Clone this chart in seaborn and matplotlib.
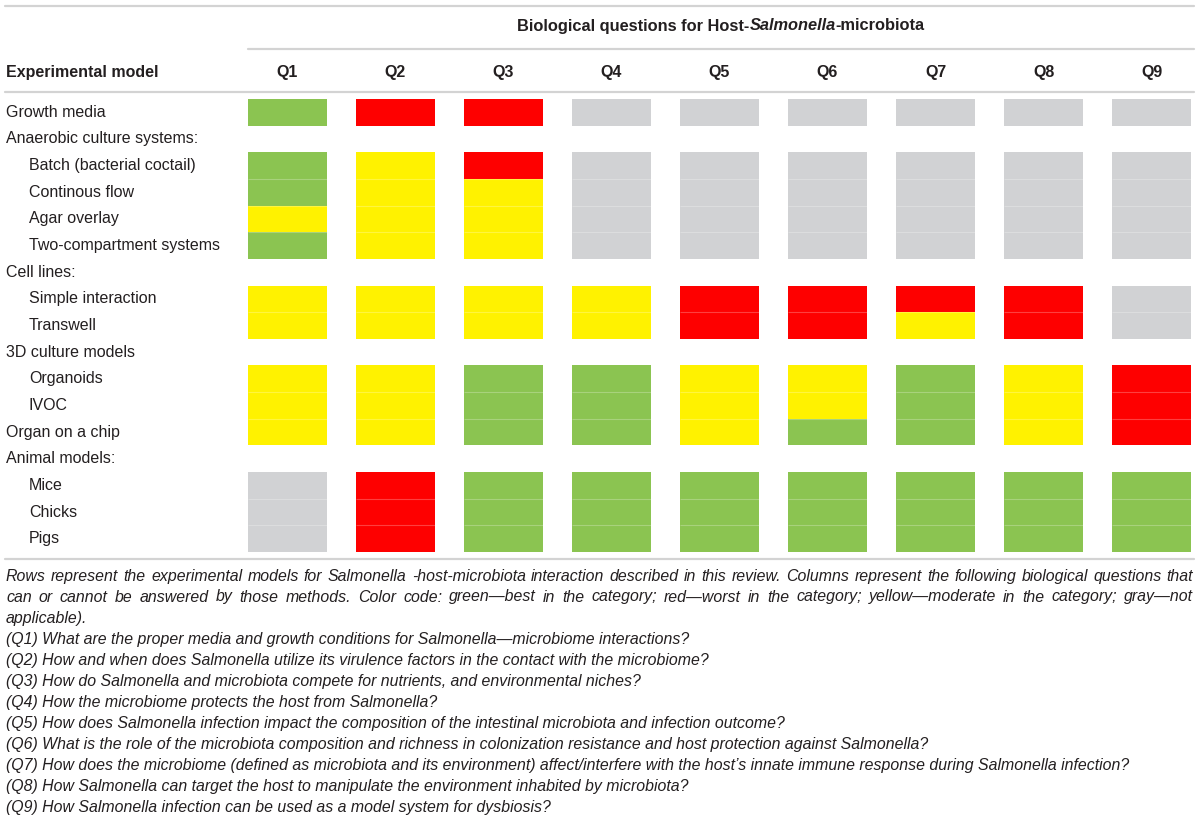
import numpy as np
import pandas as pd
import seaborn as sns
import matplotlib.pyplot as plt
from matplotlib.colors import ListedColormap

# ---- data ----
questions = ["Q1", "Q2", "Q3", "Q4", "Q5", "Q6", "Q7", "Q8", "Q9"]

row_labels = [
    "Growth media",
    "Anaerobic culture systems:",
    "Batch (bacterial coctail)",
    "Continous flow",
    "Agar overlay",
    "Two-compartment systems",
    "Cell lines:",
    "Simple interaction",
    "Transwell",
    "3D culture models",
    "Organoids",
    "IVOC",
    "Organ on a chip",
    "Animal models:",
    "Mice",
    "Chicks",
    "Pigs",
]
row_level = [0, 0, 1, 1, 1, 1, 0, 1, 1, 0, 1, 1, 0, 0, 1, 1, 1]

# G = best, Y = moderate, R = worst, N = not applicable, None = group header
ratings = [
    "GRRNNNNNN",
    None,
    "GYRNNNNNN",
    "GYYNNNNNN",
    "YYYNNNNNN",
    "GYYNNNNNN",
    None,
    "YYYYRRRRN",
    "YYYYRRYRN",
    None,
    "YYGGYYGYR",
    "YYGGYYGYR",
    "YYGGYGGYR",
    None,
    "NRGGGGGGG",
    "NRGGGGGGG",
    "NRGGGGGGG",
]

header_title = "Biological questions for Host-"
header_italic = "Salmonella"
header_tail = "-microbiota"

caption_par = [
    "Rows represent the experimental models for Salmonella -host-microbiota interaction described in this review. Columns represent the following biological questions that",
    "can or cannot be answered by those methods. Color code: green\u2014best in the category; red\u2014worst in the category; yellow\u2014moderate in the category; gray\u2014not",
    "applicable).",
]
question_text = [
    "(Q1) What are the proper media and growth conditions for Salmonella\u2014microbiome interactions?",
    "(Q2) How and when does Salmonella utilize its virulence factors in the contact with the microbiome?",
    "(Q3) How do Salmonella and microbiota compete for nutrients, and environmental niches?",
    "(Q4) How the microbiome protects the host from Salmonella?",
    "(Q5) How does Salmonella infection impact the composition of the intestinal microbiota and infection outcome?",
    "(Q6) What is the role of the microbiota composition and richness in colonization resistance and host protection against Salmonella?",
    "(Q7) How does the microbiome (defined as microbiota and its environment) affect/interfere with the host\u2019s innate immune response during Salmonella infection?",
    "(Q8) How Salmonella can target the host to manipulate the environment inhabited by microbiota?",
    "(Q9) How Salmonella infection can be used as a model system for dysbiosis?",
]

code_order = ["N", "R", "Y", "G"]
palette = ["#D1D2D4", "#FE0000", "#FFF200", "#8BC451"]

# ---- build grid (each question = 8 cell sub-columns + 3 gap sub-columns) ----
CELL, GAP = 8, 3
codes = pd.DataFrame(
    [[code_order.index(c) for c in r] if r else [np.nan] * len(questions) for r in ratings],
    index=row_labels, columns=questions, dtype=float)

cols = []
for j, q in enumerate(questions):
    cols += [codes[q].values] * CELL
    if j < len(questions) - 1:
        cols += [np.full(len(row_labels), np.nan)] * GAP
grid = np.column_stack(cols)

W, H = 1200, 822
sns.set_theme(style="white")
plt.rcParams['font.family'] = ['Liberation Sans', 'DejaVu Sans']
fig = plt.figure(figsize=(W / 100, H / 100), dpi=100)


def fx(px):
    return px / W


def fy(py):
    return 1 - py / H


x_left, x_right = 248, 1191
y_top, y_bot = 99, 552
ax = fig.add_axes([fx(x_left), fy(y_bot), fx(x_right - x_left), (y_bot - y_top) / H])
sns.heatmap(grid, ax=ax, cmap=ListedColormap(palette), vmin=-0.5, vmax=3.5,
            cbar=False, xticklabels=False, yticklabels=False)

# faint separators between stacked cells
for i in range(1, len(row_labels)):
    if ratings[i] and ratings[i - 1]:
        for j in range(len(questions)):
            x0 = j * (CELL + GAP)
            ax.hlines(i, x0, x0 + CELL, color="white", alpha=0.25, lw=0.8)

# row labels
row_h = (y_bot - y_top) / len(row_labels)
for i, (lab, lvl) in enumerate(zip(row_labels, row_level)):
    fig.text(fx(6 + 23 * lvl), fy(y_top + row_h * (i + 0.5)), lab,
             fontsize=11.5, color="#231F20", va="center", ha="left")

# column headers
pitch = (x_right - x_left) / (len(questions) * (CELL + GAP) - GAP) * (CELL + GAP)
cell_w = pitch * CELL / (CELL + GAP)
for j, q in enumerate(questions):
    fig.text(fx(x_left + j * pitch + cell_w / 2), fy(72), q, fontsize=11.5,
             fontweight="bold", ha="center", va="center", color="#231F20")
fig.text(fx(6), fy(72), "Experimental model", fontsize=11.5, fontweight="bold",
         ha="left", va="center", color="#231F20")

# spanning header with italic part
renderer = fig.canvas.get_renderer()
parts = [(header_title, "normal"), (header_italic, "italic"), (header_tail, "normal")]
tmp = [fig.text(0, 0, s, fontsize=11.8, fontweight="bold", style=st) for s, st in parts]
widths = [t.get_window_extent(renderer).width for t in tmp]
for t in tmp:
    t.remove()
cx = 721
xs = cx - sum(widths) / 2
for (s, st), w in zip(parts, widths):
    fig.text(fx(xs), fy(26), s, fontsize=11.8, fontweight="bold", style=st,
             ha="left", va="center", color="#231F20")
    xs += w

# rules
line_col = "#D3D3D3"
fig.add_artist(plt.Line2D([fx(5), fx(1194)], [fy(6), fy(6)], color=line_col, lw=1.6))
fig.add_artist(plt.Line2D([fx(x_left), fx(1194)], [fy(49), fy(49)], color=line_col, lw=1.6))
fig.add_artist(plt.Line2D([fx(5), fx(1194)], [fy(92), fy(92)], color=line_col, lw=1.6))
fig.add_artist(plt.Line2D([fx(5), fx(1194)], [fy(559), fy(559)], color=line_col, lw=1.6))


# caption
def put_line(text, y, justify):
    kw = dict(fontsize=11.45, style="italic", va="center", ha="left", color="#231F20")
    if not justify:
        fig.text(fx(6), fy(y), text, **kw)
        return
    words = text.split(" ")
    ts = [fig.text(0, 0, w_, **kw) for w_ in words]
    ws = [t.get_window_extent(renderer).width for t in ts]
    for t in ts:
        t.remove()
    gap = (1193 - 6 - sum(ws)) / (len(words) - 1)
    x = 6
    for w_, wd in zip(words, ws):
        fig.text(fx(x), fy(y), w_, **kw)
        x += wd + gap


lines = caption_par + question_text
for k, line in enumerate(lines):
    put_line(line, 576 + 21 * k, justify=(k < 2))

fig.savefig("out.png", dpi=100)
